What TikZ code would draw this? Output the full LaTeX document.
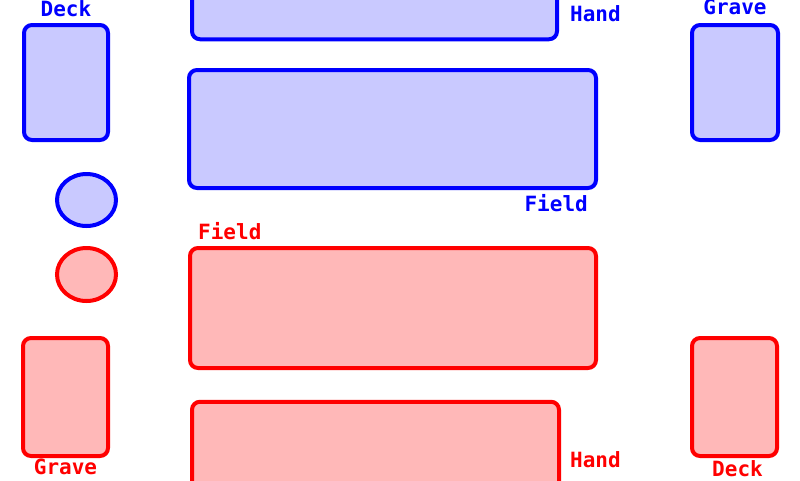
\documentclass[tikz,border=0pt]{standalone}
\usepackage{fontspec}
\setmonofont{DejaVu Sans Mono}
\usetikzlibrary{positioning, shapes.geometric}

\begin{document}
\begin{tikzpicture}[x=1pt, y=-1pt,
      zone/.style={draw, rounded corners=8pt, line width=4pt},
      chip/.style={draw, ellipse, line width=4pt, inner sep=0pt},
      mine/.style={draw=blue, fill=blue!21},
      theirs/.style={draw=red, fill=red!28},
      lbl/.style={font=\ttfamily\bfseries\fontsize{21}{21}\selectfont, inner sep=0pt}
    ]
      \useasboundingbox (0,0) rectangle (800,480);
      \clip (0,0) rectangle (800,480);

      % upper player
      \node[zone, mine, minimum width=365pt, minimum height=160pt] (handA) at (374.5,-40.75) {};
      \node[zone, mine, minimum width=407pt, minimum height=118pt] (fieldA) at (392.5,129) {};
      \node[zone, mine, minimum width=84pt, minimum height=115pt] (deckA) at (66,82.5) {};
      \node[zone, mine, minimum width=86pt, minimum height=115pt] (graveA) at (735,82.5) {};
      \node[chip, mine, minimum width=59pt, minimum height=52pt] (lifeA) at (86.5,200) {};

      \node[lbl, text=blue, anchor=south] at ([yshift=6pt]deckA.north) {Deck};
      \node[lbl, text=blue, anchor=south] at ([yshift=8pt]graveA.north) {Grave};
      \node[lbl, text=blue, anchor=south west] at ([shift={(11,-19)}]handA.south east) {Hand};
      \node[lbl, text=blue, anchor=south east] at ([shift={(-10,22)}]fieldA.south east) {Field};

      % lower player
      \node[zone, theirs, minimum width=406pt, minimum height=120pt] (fieldB) at (393,308) {};
      \node[zone, theirs, minimum width=367pt, minimum height=160pt] (handB) at (375.5,481.75) {};
      \node[zone, theirs, minimum width=85pt, minimum height=118pt] (graveB) at (65.5,397) {};
      \node[zone, theirs, minimum width=85pt, minimum height=118pt] (deckB) at (734.5,397) {};
      \node[chip, theirs, minimum width=59pt, minimum height=53pt] (lifeB) at (86.5,274.5) {};

      \node[lbl, text=red, anchor=south west] at ([shift={(10,-6)}]fieldB.north west) {Field};
      \node[lbl, text=red, anchor=south] at ([shift={(0,17)}]graveB.south) {Grave};
      \node[lbl, text=red, anchor=south west] at ([shift={(9,68)}]handB.north east) {Hand};
      \node[lbl, text=red, anchor=south] at ([shift={(3,19)}]deckB.south) {Deck};
    \end{tikzpicture}
\end{document}
